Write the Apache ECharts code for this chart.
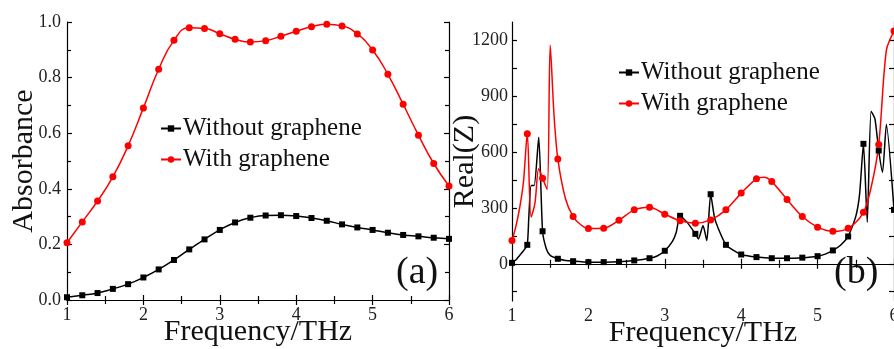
<!DOCTYPE html>
<html>
<head>
<meta charset="utf-8">
<script src="https://cdn.jsdelivr.net/npm/echarts@6/dist/echarts.min.js"></script>
<style>
  html, body { margin: 0; padding: 0; background: #fff; }
  #chart { width: 894px; height: 349px; }
</style>
</head>
<body>
<div id="chart"></div>
<script>
// panel (a): absorbance, sampled every 0.2 THz
const freqA = [1, 1.2, 1.4, 1.6, 1.8, 2, 2.2, 2.4, 2.6, 2.8, 3, 3.2, 3.4, 3.6, 3.8, 4, 4.2, 4.4, 4.6, 4.8, 5, 5.2, 5.4, 5.6, 5.8, 6];
const absWithout = [0.010, 0.017, 0.025, 0.040, 0.057, 0.081, 0.110, 0.144, 0.182, 0.218, 0.252, 0.279, 0.296, 0.304, 0.305, 0.302, 0.295, 0.285, 0.272, 0.261, 0.252, 0.242, 0.234, 0.229, 0.224, 0.220];
const absWith = [0.206, 0.281, 0.356, 0.443, 0.555, 0.691, 0.830, 0.934, 0.979, 0.977, 0.958, 0.938, 0.928, 0.933, 0.949, 0.967, 0.983, 0.992, 0.986, 0.957, 0.899, 0.812, 0.704, 0.593, 0.491, 0.410];

// panel (b): Real(Z), denser where the curve has spikes
const freqBWithout = [1, 1.05, 1.1, 1.15, 1.2, 1.22, 1.25, 1.29, 1.35, 1.4, 1.45, 1.5, 1.6, 1.7, 1.8, 2, 2.2, 2.4, 2.6, 2.8, 2.9, 3, 3.1, 3.15, 3.2, 3.29, 3.4, 3.44, 3.5, 3.55, 3.6, 3.65, 3.7, 3.8, 3.9, 4, 4.2, 4.4, 4.6, 4.8, 5, 5.1, 5.2, 5.3, 5.4, 5.5, 5.55, 5.6, 5.65, 5.7, 5.75, 5.8, 5.85, 5.9, 6];
const realWithout = [5, 20, 45, 70, 102, 250, 421, 421, 680, 175, 80, 45, 27, 18, 14, 9, 9, 11, 18, 30, 42, 70, 120, 170, 258, 224, 161, 134, 206, 125, 374, 250, 190, 102, 72, 50, 36, 30, 30, 33, 41, 52, 72, 100, 147, 255, 376, 645, 224, 820, 780, 609, 492, 749, 290];
const freqBWith = [1, 1.05, 1.1, 1.15, 1.2, 1.25, 1.3, 1.35, 1.4, 1.46, 1.5, 1.55, 1.6, 1.7, 1.8, 1.9, 2, 2.2, 2.4, 2.6, 2.8, 3, 3.2, 3.4, 3.6, 3.8, 4, 4.2, 4.3, 4.4, 4.6, 4.8, 5, 5.2, 5.4, 5.6, 5.7, 5.8, 5.9, 6];
const realWith = [125, 200, 300, 440, 699, 251, 325, 511, 460, 400, 1175, 800, 564, 350, 254, 210, 190, 191, 234, 290, 304, 267, 231, 218, 236, 290, 380, 457, 465, 442, 346, 254, 197, 175, 191, 277, 410, 641, 1147, 1251];

const zLabels = [0, 300, 600, 900, 1200];
const zTicks = [-150, 0, 150, 300, 450, 600, 750, 900, 1050, 1200];

const serif = "Liberation Serif";
const RED = "#ff0000";

const zip = (xs, ys) => xs.map((x, i) => [x, ys[i]]);
// only every 0.2 THz gets a marker, like the reference
const marked = (xs, ys) =>
  xs.map((x, i) => {
    const onGrid = Math.abs(x * 5 - Math.round(x * 5)) < 1e-6;
    return onGrid ? { value: [x, ys[i]] } : { value: [x, ys[i]], symbol: "none" };
  });

const frame = { lineStyle: { color: "#000", width: 1.2 } };
const tick = { inside: true, length: 5, lineStyle: { color: "#000", width: 1.2 } };
const minor = { show: true, splitNumber: 2, length: 4, lineStyle: { color: "#000", width: 1.2 } };
const label = { fontFamily: serif, fontSize: 18, color: "#222" };
const nameStyle = { fontFamily: serif, fontSize: 30, color: "#111" };

function xAxes(gridIndex) {
  const base = {
    type: "value", gridIndex, min: 1, max: 6, interval: 1,
    axisLine: frame, axisTick: tick, minorTick: minor, splitLine: { show: false },
  };
  return [
    {
      ...base, position: "bottom",
      axisLabel: { ...label, margin: 6 },
      name: "Frequency/THz", nameLocation: "middle", nameGap: 17, nameMoveOverlap: false,
      nameTextStyle: nameStyle,
    },
    { ...base, position: "top", axisLabel: { show: false } },
  ];
}

const legendBase = {
  orient: "vertical", padding: 0, itemGap: 6,
  itemWidth: 20, itemHeight: 8,
  textStyle: { fontFamily: serif, fontSize: 25, color: "#111", padding: [0, 0, 0, -3] },
  data: ["Without graphene", "With graphene"],
};

const chart = echarts.init(document.getElementById("chart"));
chart.setOption({
  animation: false,
  grid: [
    { left: 67, top: 22, width: 382, height: 278, outerBoundsMode: "none" },
    { left: 512, top: 22, width: 382, height: 279, outerBoundsMode: "none" },
  ],
  xAxis: [...xAxes(0), ...xAxes(1)],
  yAxis: [
    {
      type: "value", gridIndex: 0, min: 0, max: 1, interval: 0.2, position: "left",
      axisLine: frame, axisTick: tick, minorTick: minor, splitLine: { show: false },
      axisLabel: { ...label, margin: 6, formatter: (v) => v.toFixed(1) },
      name: "Absorbance", nameLocation: "middle", nameGap: 28, nameMoveOverlap: false,
      nameTextStyle: nameStyle,
    },
    {
      type: "value", gridIndex: 0, min: 0, max: 1, interval: 0.2, position: "right",
      axisLine: frame, axisTick: tick, minorTick: minor, splitLine: { show: false },
      axisLabel: { show: false },
    },
    {
      type: "value", gridIndex: 1, min: -200, max: 1300, interval: 100, position: "left",
      axisLine: frame, splitLine: { show: false },
      axisTick: { ...tick, customValues: zTicks },
      axisLabel: { ...label, margin: 4, customValues: zLabels, formatter: (v) => String(v) },
      name: "Real(Z)", nameLocation: "middle", nameGap: 32, nameMoveOverlap: false,
      nameTextStyle: nameStyle,
    },
    {
      type: "value", gridIndex: 1, min: -200, max: 1300, interval: 100, position: "right",
      axisLine: frame, splitLine: { show: false },
      axisTick: { ...tick, customValues: zTicks },
      axisLabel: { show: false },
    },
  ],
  legend: [
    { ...legendBase, left: 160, top: 116 },
    { ...legendBase, left: 618, top: 60 },
  ],
  graphic: [
    { type: "text", left: 396, top: 254, style: { text: "(a)", fontFamily: serif, fontSize: 38, fill: "#111" } },
    { type: "text", left: 834, top: 254, style: { text: "(b)", fontFamily: serif, fontSize: 38, fill: "#111" } },
  ],
  series: [
    {
      name: "Without graphene", type: "line", xAxisIndex: 0, yAxisIndex: 0,
      data: zip(freqA, absWithout), smooth: true,
      symbol: "rect", symbolSize: 6,
      itemStyle: { color: "#000" }, lineStyle: { color: "#000", width: 1.5 },
    },
    {
      name: "With graphene", type: "line", xAxisIndex: 0, yAxisIndex: 0,
      data: zip(freqA, absWith), smooth: true,
      symbol: "circle", symbolSize: 7,
      itemStyle: { color: RED }, lineStyle: { color: RED, width: 1.5 },
    },
    {
      name: "Without graphene", type: "line", xAxisIndex: 2, yAxisIndex: 2,
      data: marked(freqBWithout, realWithout), smooth: 0.2, showAllSymbol: true,
      symbol: "rect", symbolSize: 6,
      itemStyle: { color: "#000" }, lineStyle: { color: "#000", width: 1.5 },
    },
    {
      name: "With graphene", type: "line", xAxisIndex: 2, yAxisIndex: 2,
      data: marked(freqBWith, realWith), smooth: 0.3, showAllSymbol: true,
      symbol: "circle", symbolSize: 7,
      itemStyle: { color: RED }, lineStyle: { color: RED, width: 1.5 },
    },
  ],
});
</script>
</body>
</html>
